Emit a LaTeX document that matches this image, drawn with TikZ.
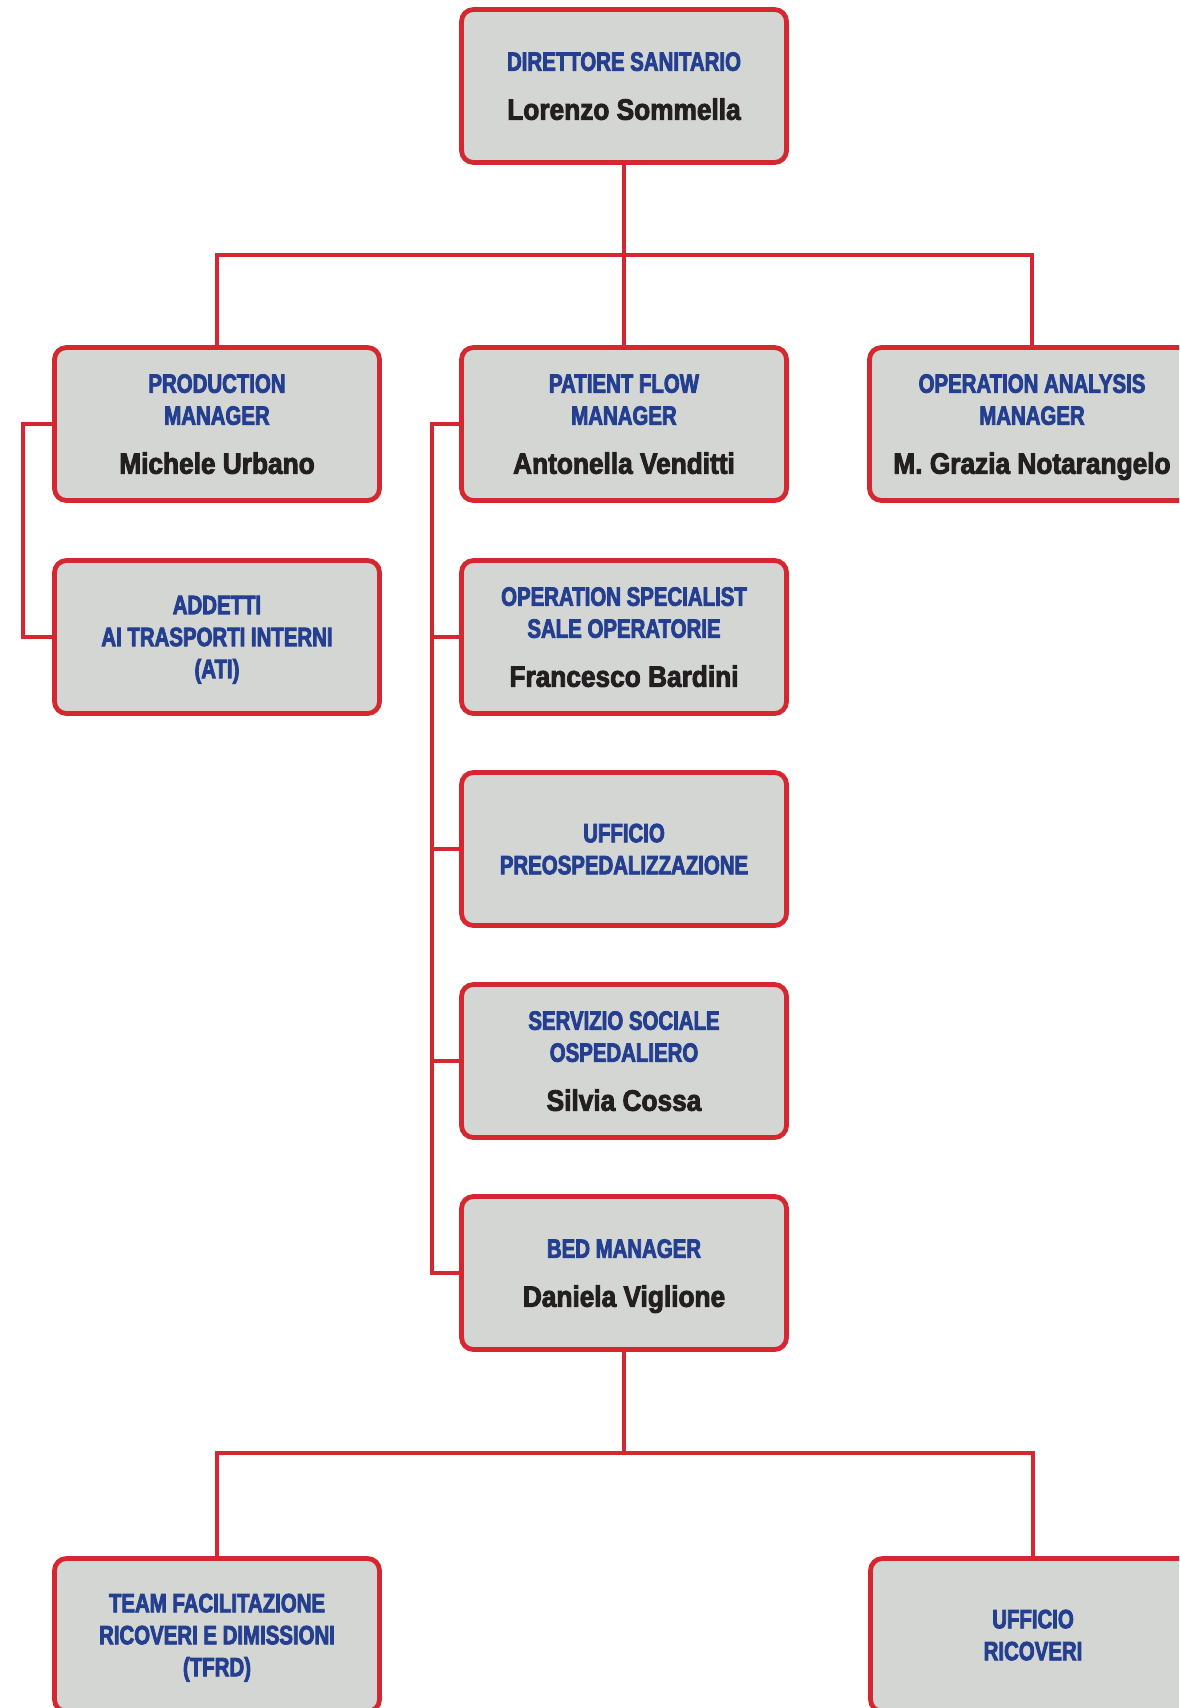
\documentclass[tikz,border=0pt]{standalone}
\usepackage{fontspec}
\usetikzlibrary{backgrounds}
\newfontfamily\ttlfont[FakeStretch=0.77,FakeBold=3]{Liberation Sans}
\newfontfamily\nmfont[FakeStretch=0.89,FakeBold=3]{Liberation Sans}
\definecolor{orgred}{RGB}{213,39,47}
\definecolor{orggray}{RGB}{212,214,211}
\definecolor{orgblue}{RGB}{36,63,143}
\definecolor{orgblack}{RGB}{35,31,32}
\newcommand\nm[1]{{\nmfont\bfseries\fontsize{29.5}{32}\selectfont\color{orgblack}#1}}
\tikzset{
  orgbox/.style={draw=orgred, fill=orggray, line width=4.8pt, rounded corners=12pt,
    minimum width=325pt, minimum height=153pt, inner sep=0pt, align=center,
    text depth=0pt, text=orgblue, font=\ttlfont\bfseries\fontsize{26.5}{32}\selectfont},
  link/.style={draw=orgred, line width=4.3pt}
}
\begin{document}
\begin{tikzpicture}[x=1pt,y=-1pt]
\useasboundingbox (0,0) rectangle (1179,1708);
\clip (0,0) rectangle (1179,1708);
\node[orgbox] (dir) at (624,86) {DIRETTORE SANITARIO\\[17pt]\nm{Lorenzo Sommella}};
\node[orgbox] (pm) at (217,424) {PRODUCTION\\MANAGER\\[17pt]\nm{Michele Urbano}};
\node[orgbox] (pf) at (624,424) {PATIENT FLOW\\MANAGER\\[17pt]\nm{Antonella Venditti}};
\node[orgbox] (oa) at (1032,424) {OPERATION ANALYSIS\\MANAGER\\[17pt]\nm{M. Grazia Notarangelo}};
\node[orgbox] (ati) at (217,637) {ADDETTI\\AI TRASPORTI INTERNI\\(ATI)};
\node[orgbox] (os) at (624,637) {OPERATION SPECIALIST\\SALE OPERATORIE\\[17pt]\nm{Francesco Bardini}};
\node[orgbox] (up) at (624,849) {UFFICIO\\PREOSPEDALIZZAZIONE};
\node[orgbox] (ss) at (624,1061) {SERVIZIO SOCIALE\\OSPEDALIERO\\[17pt]\nm{Silvia Cossa}};
\node[orgbox] (bm) at (624,1273) {BED MANAGER\\[17pt]\nm{Daniela Viglione}};
\node[orgbox] (tf) at (217,1635) {TEAM FACILITAZIONE\\RICOVERI E DIMISSIONI\\(TFRD)};
\node[orgbox] (ur) at (1033,1635) {UFFICIO\\RICOVERI};
\coordinate (busT) at (624,255);
\coordinate (busB) at (624,1453);
\coordinate (l1) at (23,424);
\coordinate (l2) at (432,424);
\begin{scope}[on background layer]
\draw[link] (dir.south) -- (pf.north);
\draw[link] (pm.north) |- (busT) -| (oa.north);
\draw[link] (pm.west) -- (l1) |- (ati.west);
\draw[link] (pf.west) -- (l2) |- (bm.west);
\draw[link] (os.west -| l2) -- (os.west);
\draw[link] (up.west -| l2) -- (up.west);
\draw[link] (ss.west -| l2) -- (ss.west);
\draw[link] (bm.south) -- (busB);
\draw[link] (tf.north) |- (busB) -| (ur.north);
\end{scope}
\end{tikzpicture}
\end{document}
